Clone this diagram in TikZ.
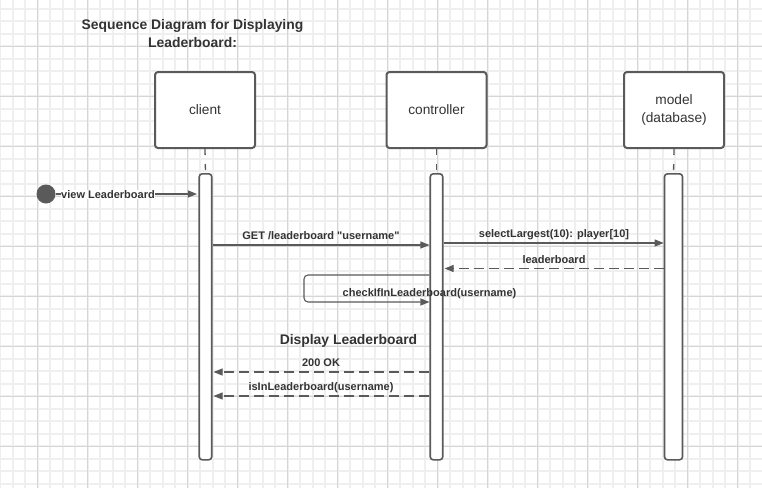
\documentclass[tikz,border=0pt]{standalone}
\usepackage{fontspec}
\setmainfont{Liberation Sans}
\usetikzlibrary{arrows.meta,calc}
\definecolor{ln}{HTML}{5A5A5A}
\definecolor{tx}{HTML}{333333}
\definecolor{gmin}{HTML}{EFEFEF}
\definecolor{gmaj}{HTML}{D6D6D6}
\begin{document}
\begin{tikzpicture}[x=1pt,y=-1pt,
  actor/.style={draw=ln,line width=2pt,rounded corners=3pt,fill=white,minimum width=100pt,minimum height=76pt,inner sep=0pt,align=center,text=tx,font=\fontsize{13.7}{17}\selectfont},
  bar/.style={draw=ln,line width=1.6pt,rounded corners=3pt,fill=white,minimum height=286pt,inner sep=0pt,anchor=north},
  life/.style={draw=ln,line width=1.3pt,dash pattern=on 6pt off 9pt},
  msg/.style={draw=ln,line width=1.1pt,-{Triangle[length=9pt,width=7pt]}},
  ret/.style={draw=ln,line width=1.1pt,dash pattern=on 10pt off 5pt,-{Triangle[length=9pt,width=7pt]}},
  lbl/.style={text=tx,font=\bfseries\fontsize{11}{13}\selectfont,inner sep=0pt},
  ttl/.style={text=tx,font=\bfseries\fontsize{13.9}{17}\selectfont,inner sep=0pt,align=center}
]
\useasboundingbox (0,0) rectangle (762,488);
\fill[white] (0,0) rectangle (762,488);
% grid
\foreach \x in {0,12.5,...,762} \draw[gmin,line width=2pt] (\x,0) -- (\x,488);
\foreach \y in {8.5,21,...,488} \draw[gmin,line width=2pt] (0,\y) -- (762,\y);
\foreach \x in {37.5,87.5,...,762} \draw[gmaj,line width=0.8pt] (\x,0) -- (\x,488);
\foreach \y in {46,96,...,488} \draw[gmaj,line width=0.8pt] (0,\y) -- (762,\y);

% title
\node[ttl] (title1) at (192.5,25.5) {Sequence Diagram for Displaying};
\node[ttl] (title2) at (192.5,42.5) {Leaderboard:};

% actors
\node[actor] (client) at (205,110) {client};
\node[actor] (ctrl) at (436.5,110) {controller};
\node[actor] (model) at (674,110) {model\\[1pt](database)};

% activation bars
\node[bar,minimum width=12.5pt] (cbar) at (205.5,173) {};
\node[bar,minimum width=12.5pt] (kbar) at (436.5,173) {};
\node[bar,minimum width=18pt] (mbar) at (673.5,173) {};

% lifelines
\draw[life] (client.south) -- (cbar.north);
\draw[life] (ctrl.south) -- (kbar.north);
\draw[life] (model.south) -- (mbar.north);

% message levels
\coordinate (y0) at (0,194);
\coordinate (y1) at (0,245);
\coordinate (y2) at (0,243);
\coordinate (y3) at (0,268.5);
\coordinate (y4a) at (0,275);
\coordinate (y4b) at (0,302);
\coordinate (y5) at (0,372);
\coordinate (y6) at (0,396);
\coordinate (loopx) at (304,0);

% start
\node[circle,fill=ln,minimum size=19pt,inner sep=0pt] (start) at (46,194) {};
\draw[msg] (start.east) -- ($(cbar.west |- y0)+(-1.5,0)$);
\node[lbl,fill=white] (l0) at (108,194.5) {view Leaderboard};

% messages
\draw[msg] (cbar.east |- y1) -- (kbar.west |- y1);
\node[lbl] (l1) at (321,235.5) {GET /leaderboard \textquotedbl username\textquotedbl};

\draw[msg] (kbar.east |- y2) -- (mbar.west |- y2);
\node[lbl] (l2) at (554,234.5) {selectLargest(10): player[10]};

\draw[ret] (mbar.west |- y3) -- ($(kbar.east |- y3)+(1,0)$);
\node[lbl] (l3) at (554,259.5) {leaderboard};

\draw[msg,rounded corners=4pt] (kbar.west |- y4a) -- (loopx |- y4a) -- (loopx |- y4b) -- (kbar.west |- y4b);
\node[lbl] (l4) at (429.5,293.5) {checkIfInLeaderboard(username)};

\node[ttl] (disp) at (348.5,340.5) {Display Leaderboard};

\draw[ret] (kbar.west |- y5) -- ($(cbar.east |- y5)+(1,0)$);
\node[lbl] (l5) at (321,362.5) {200 OK};

\draw[ret] (kbar.west |- y6) -- ($(cbar.east |- y6)+(1,0)$);
\node[lbl] (l6) at (321,387.5) {isInLeaderboard(username)};
\end{tikzpicture}
\end{document}
